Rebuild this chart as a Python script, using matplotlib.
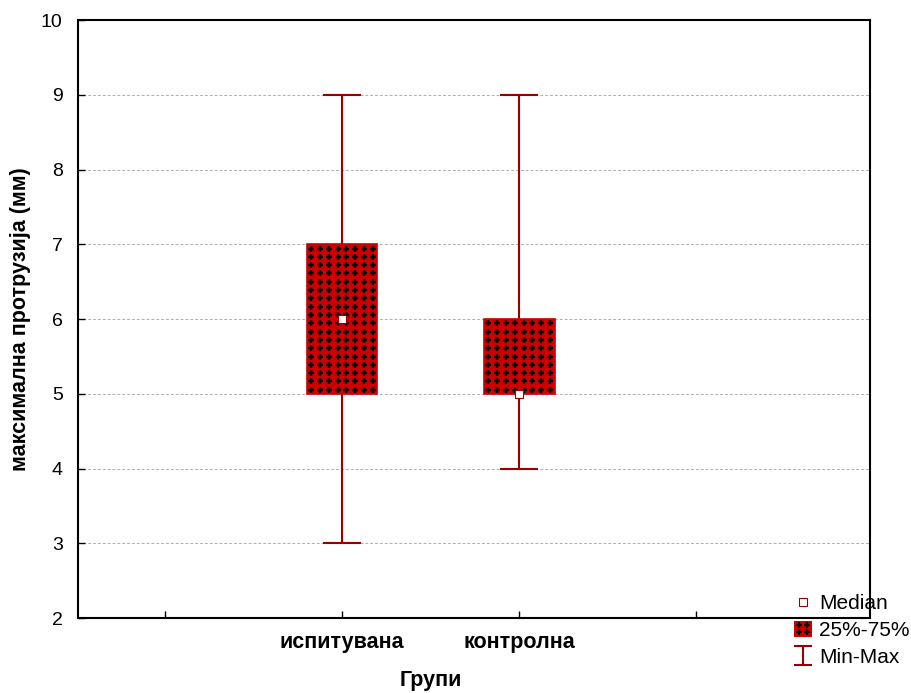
import numpy as np
import matplotlib.pyplot as plt
from matplotlib.patches import Rectangle
from matplotlib.lines import Line2D
from matplotlib.legend_handler import HandlerErrorbar, HandlerBase

plt.rcParams['font.family'] = ['Liberation Sans', 'DejaVu Sans']

groups = ['испитувана', 'контролна']
medians = [6, 5]
q1 = [5, 5]
q3 = [7, 6]
mins = [3, 4]
maxs = [9, 9]

BOX_RED = '#cc0000'
DARK_RED = '#990000'
CROSS = '#140000'
BOX_W = 0.4


class HandlerCrossBox(HandlerBase):
    # red square with a 2x2 set of small crosses, like the box texture
    def create_artists(self, legend, orig_handle, xdescent, ydescent,
                       width, height, fontsize, trans):
        rect = Rectangle((-xdescent, -ydescent), width, height,
                         facecolor=BOX_RED, edgecolor='none', transform=trans)
        cx = [-xdescent + width * 0.28, -xdescent + width * 0.72] * 2
        cy = [-ydescent + height * 0.28] * 2 + [-ydescent + height * 0.72] * 2
        crosses = Line2D(cx, cy, linestyle='none', marker='+', markersize=4.5,
                         markeredgewidth=1.6, color=CROSS, transform=trans)
        return [rect, crosses]


fig = plt.figure(figsize=(9.11, 6.93), dpi=100)
ax = fig.add_axes([0.0856, 0.108, 0.8694, 0.863])

pos = np.arange(1, len(groups) + 1)
mids = np.array(medians, dtype=float)
lo = mids - np.array(mins)
hi = np.array(maxs) - mids

# whiskers (min-max)
ax.errorbar(pos, mids, yerr=[lo, hi], fmt='none', ecolor=DARK_RED,
            elinewidth=1.5, capsize=13.5, capthick=1.5, zorder=2)

# 25%-75% boxes
heights = np.array(q3) - np.array(q1)
box_bars = ax.bar(pos, heights, bottom=q1, width=BOX_W, color=BOX_RED, edgecolor=BOX_RED,
                  linewidth=1.2, zorder=3)

# fill texture: small black crosses over each box (Statistica style)
dx, dy = BOX_W / 8, 1 / 9
for p, a, b in zip(pos, q1, q3):
    gx = np.arange(p - BOX_W / 2 + dx / 2, p + BOX_W / 2, dx)
    gy = np.arange(a + dy / 2, b, dy)
    xx, yy = np.meshgrid(gx, gy)
    ax.scatter(xx.ravel(), yy.ravel(), marker='+', s=22, color=CROSS,
               linewidths=1.7, zorder=4)

# medians
ax.scatter(pos, medians, marker='s', s=40, facecolor='white',
           edgecolor=DARK_RED, linewidth=0.8, zorder=6)

ax.set_xlim(-0.49, 3.98)
ax.set_ylim(2, 10)
ax.set_xticks([0, 1, 2, 3])
ax.set_xticklabels(['', groups[0], groups[1], ''], fontsize=15.5, fontweight='bold')
ax.set_yticks(range(2, 11))
ax.tick_params(axis='both', direction='in', length=5, width=1)
ax.tick_params(axis='y', labelsize=14, pad=11)
ax.tick_params(axis='x', pad=10)
ax.yaxis.grid(True, linestyle=(0, (3, 2)), color='#b0b0b0', linewidth=0.7)
ax.set_axisbelow(True)
for sp in ax.spines.values():
    sp.set_linewidth(1.5)

# x label sits centred under the two groups, not under the axes
ax.set_xlabel('Групи', fontsize=15.5, fontweight='bold', va='center')
ax.xaxis.set_label_coords(0.445, -0.104)
ax.set_ylabel('максимална протрузија (мм)', fontsize=15.5, fontweight='bold', labelpad=7)

# legend handles
leg_eb = ax.errorbar([np.nan], [np.nan], yerr=[[np.nan], [np.nan]], fmt='none',
                     ecolor=DARK_RED, elinewidth=1.5, capsize=6.5, capthick=1.5)
med_handle = Line2D([], [], linestyle='none', marker='s', markersize=6,
                    markerfacecolor='white', markeredgecolor=DARK_RED, markeredgewidth=0.8)
box_handle = box_bars.patches[0]
fig.legend([med_handle, box_handle, leg_eb], ['Median', '25%-75%', 'Min-Max'],
           loc='upper left', bbox_to_anchor=(0.862, 0.155), frameon=False, fontsize=15,
           handlelength=0.87, handleheight=0.8, handletextpad=0.35, labelspacing=0.37,
           borderaxespad=0,
           handler_map={type(leg_eb): HandlerErrorbar(xerr_size=0.5, yerr_size=0.45),
                        box_handle: HandlerCrossBox()})

fig.savefig('out.png', dpi=100)
